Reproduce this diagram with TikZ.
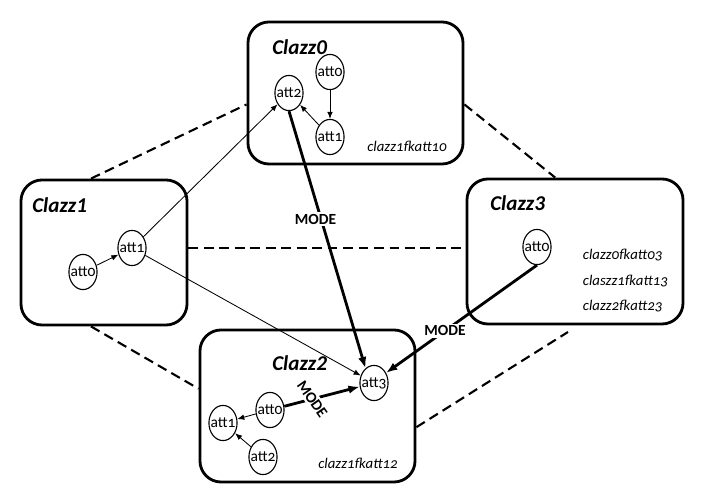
\documentclass[tikz,border=0pt]{standalone}
\usepackage{fontspec}
\setmainfont{Carlito}[Numbers=OldStyle]
\newfontfamily\titlefont{Carlito}
\usetikzlibrary{shapes,arrows.meta,positioning}

\begin{document}
\begin{tikzpicture}[x=0.025cm, y=-0.025cm,
  box/.style={draw, line width=2pt, rounded corners=15pt, inner sep=0pt},
  attrtext/.style={font=\fontsize{11}{12}\selectfont, inner sep=0pt},
  attr/.style={ellipse, draw, line width=0.8pt, inner sep=0pt,
    minimum width=20pt, minimum height=25pt, label={[attrtext]center:#1}},
  title/.style={anchor=west, inner sep=0pt, font=\titlefont\fontsize{15}{16}\selectfont\bfseries\itshape},
  fk/.style={font=\fontsize{10.5}{12}\selectfont\itshape},
  link/.style={-{Latex[length=5pt,width=4pt]}, line width=0.6pt},
  mode/.style={-{Latex[length=8pt,width=6pt]}, line width=2pt},
  modelabel/.style={fill=white, inner sep=1.5pt, font=\titlefont\fontsize{11}{12}\selectfont\bfseries},
  assoc/.style={line width=1.5pt, dash pattern=on 7pt off 4pt}]
  \useasboundingbox (0,0) rectangle (706,503);

  % class boxes
  \node[box, minimum width=5.375cm, minimum height=3.55cm] (clazz0) at (355.5,93) {};
  \node[box, minimum width=4.15cm, minimum height=3.625cm] (clazz1) at (104,252.5) {};
  \node[box, minimum width=5.375cm, minimum height=3.8cm] (clazz2) at (307.5,406) {};
  \node[box, minimum width=5.4cm, minimum height=3.625cm] (clazz3) at (575,251.5) {};

  \node[title] (t0) at (272,47) {Clazz0};
  \node[title] (t1) at (32,205) {Clazz1};
  \node[title] (t2) at (272,363) {Clazz2};
  \node[title] (t3) at (490,203) {Clazz3};

  % attributes
  \node[attr=att0] (c0a0) at (330,72) {};
  \node[attr=att1] (c0a1) at (330,137) {};
  \node[attr=att2] (c0a2) at (289,93) {};
  \node[attr=att0] (c1a0) at (83,272) {};
  \node[attr=att1] (c1a1) at (132,248) {};
  \node[attr=att0] (c2a0) at (270,410) {};
  \node[attr=att1] (c2a1) at (223,423) {};
  \node[attr=att2] (c2a2) at (263,457) {};
  \node[attr=att3] (c2a3) at (374,383) {};
  \node[attr=att0] (c3a0) at (537,247) {};

  \node[fk] (fk10) at (407,146) {clazz1fkatt10};
  \node[fk] (fk12) at (358,463) {clazz1fkatt12};
  \node[fk, anchor=west] (fk03) at (578,255) {clazz0fkatt03};
  \node[fk, anchor=west] (fk13) at (578,281) {claszz1fkatt13};
  \node[fk, anchor=west] (fk23) at (578,306) {clazz2fkatt23};

  % associations
  \draw[assoc] (clazz1.100) -- (clazz0.186);
  \draw[assoc] (clazz0.354) -- (clazz3.105);
  \draw[assoc] (clazz1.3) -- (clazz1.3 -| clazz3.west);
  \draw[assoc] (clazz1.260) -- (clazz2.171);
  \coordinate (end23) at (568,332);
  \draw[assoc] (clazz2.349) -- (end23);

  % references
  \draw[link] (c0a0) -- (c0a1);
  \draw[link] (c0a1) -- (c0a2);
  \draw[link] (c1a0) -- (c1a1);
  \draw[link] (c1a1) -- (c0a2);
  \draw[link] (c1a1) -- (c2a3);
  \draw[link] (c2a0) -- (c2a1);
  \draw[link] (c2a2) -- (c2a1);

  \draw[mode] (c0a2.south) -- node[modelabel, pos=0.42, xshift=-4pt] {MODE} (c2a3.120);
  \draw[mode] (c3a0.south) -- node[modelabel, pos=0.61] {MODE} (c2a3.40);
  \draw[mode] (c2a0) -- node[modelabel, pos=0.37, rotate=-55] {MODE} (c2a3);
\end{tikzpicture}
\end{document}
